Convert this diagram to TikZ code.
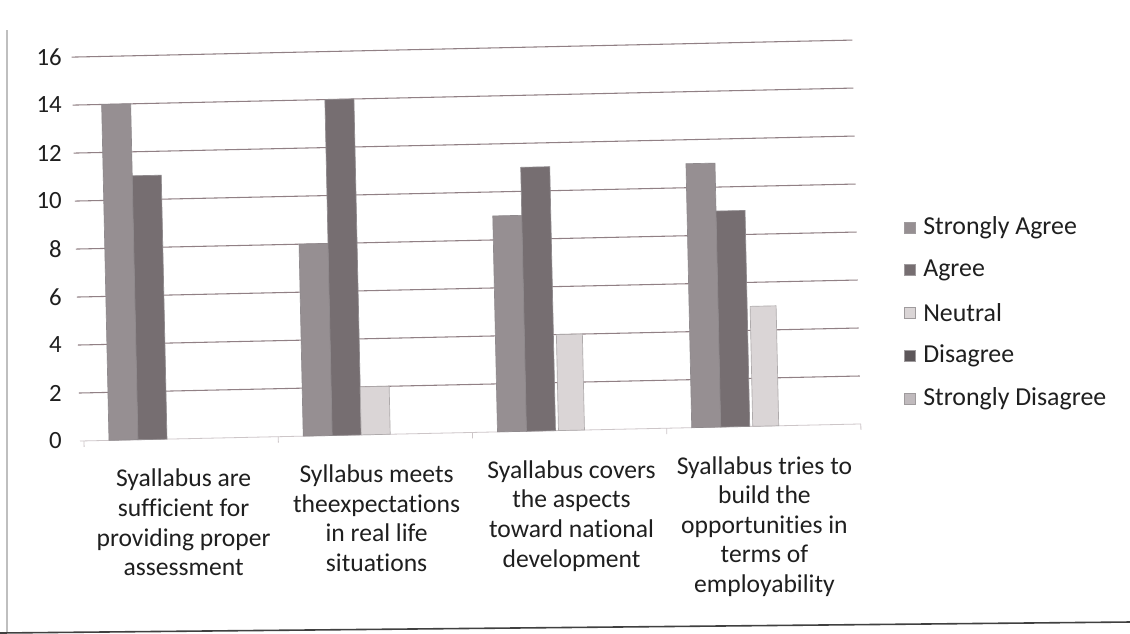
\documentclass[tikz,border=0pt]{standalone}
\usepackage{fontspec}
\setmainfont{Carlito}[Ligatures={NoCommon}]
\definecolor{sacol}{RGB}{150,143,146}
\definecolor{agcol}{RGB}{118,110,113}
\definecolor{necol}{RGB}{218,213,214}
\definecolor{dicol}{RGB}{92,86,89}
\definecolor{sdcol}{RGB}{192,186,189}
\definecolor{gridcol}{RGB}{145,128,133}
\definecolor{edgecol}{RGB}{95,88,92}
\begin{document}
\begin{tikzpicture}[x=0.75pt,y=-0.75pt,
  gridline/.style={draw=gridcol, line width=0.8pt},
  zeroline/.style={draw=gridcol!45, line width=0.6pt},
  barstyle/.style={draw=edgecol!70, line width=0.5pt},
  ylab/.style={font=\fontsize{18.6}{20}\selectfont, anchor=east, inner sep=0pt, text=black!88},
  catlab/.style={font=\fontsize{19.2}{22.2}\selectfont, align=center, anchor=north, inner sep=0pt, text=black!88},
  leglab/.style={font=\fontsize{19.4}{20}\selectfont, anchor=west, inner sep=0pt, text=black!88},
  legbox/.style={minimum size=8pt, inner sep=0pt, draw=edgecol!60, line width=0.4pt}]
\useasboundingbox (0,0) rectangle (1130,633);
\fill[white] (0,0) rectangle (1130,633);
% frame of the scanned chart
\draw[draw=black!25, line width=0.8pt] (7,30) -- (7,633);
\draw[draw=black!75, line width=1.2pt] (0,633) -- (1130,622);
% y labels
\foreach \v in {0,2,...,16}{
  \node[ylab] (y\v) at (62,{441-24*\v}) {\v};
}
\begin{scope}[rotate around={1.25:(80,441)}]
  \foreach \v in {2,4,...,16}{
    \draw[gridline] (80,{441-24*\v}) -- (861,{441-24*\v});
  }
  \draw[zeroline] (80,441) -- (861,441);
  \foreach \t in {84,278.3,472.5,666.8,861}{
    \draw[zeroline] (\t,441) -- (\t,447);
  }
  % group 1
  \filldraw[barstyle, fill=sacol] (109,441) rectangle (138,{441-24*14});
  \filldraw[barstyle, fill=agcol] (138,441) rectangle (167,{441-24*11});
  % group 2
  \filldraw[barstyle, fill=sacol] (303.3,441) rectangle (332.3,{441-24*8});
  \filldraw[barstyle, fill=agcol] (332.3,441) rectangle (361.3,{441-24*14});
  \filldraw[barstyle, fill=necol, draw=necol!80!black] (361.3,441) rectangle (390.3,{441-24*2});
  % group 3
  \filldraw[barstyle, fill=sacol] (497.6,441) rectangle (526.6,{441-24*9});
  \filldraw[barstyle, fill=agcol] (526.6,441) rectangle (555.6,{441-24*11});
  \filldraw[barstyle, fill=necol, draw=necol!80!black] (558.6,441) rectangle (584.6,{441-24*4});
  % group 4
  \filldraw[barstyle, fill=sacol] (691.9,441) rectangle (720.9,{441-24*11});
  \filldraw[barstyle, fill=agcol] (720.9,441) rectangle (749.9,{441-24*9});
  \filldraw[barstyle, fill=necol, draw=necol!80!black] (752.9,441) rectangle (778.9,{441-24*5});
  % category labels
  \node[catlab] (c1) at (183,471) {Syallabus are\\sufficient for\\providing proper\\assessment};
  \node[catlab] (c2) at (376,471) {Syllabus meets\\theexpectations\\in real life\\situations};
  \node[catlab] (c3) at (571,471) {Syallabus covers\\the aspects\\toward national\\development};
  \node[catlab] (c4) at (764,471) {Syallabus tries to\\build the\\opportunities in\\terms of\\employability};
\end{scope}
% legend
\node[legbox, fill=sacol] (m1) at (910,228) {};
\node[legbox, fill=agcol] (m2) at (910,270) {};
\node[legbox, fill=necol] (m3) at (910,313) {};
\node[legbox, fill=dicol] (m4) at (910,356) {};
\node[legbox, fill=sdcol] (m5) at (910,399) {};
\node[leglab] (l1) at (923,228) {Strongly Agree};
\node[leglab] (l2) at (923,270) {Agree};
\node[leglab] (l3) at (923,313) {Neutral};
\node[leglab] (l4) at (923,356) {Disagree};
\node[leglab] (l5) at (923,399) {Strongly Disagree};
\end{tikzpicture}
\end{document}
